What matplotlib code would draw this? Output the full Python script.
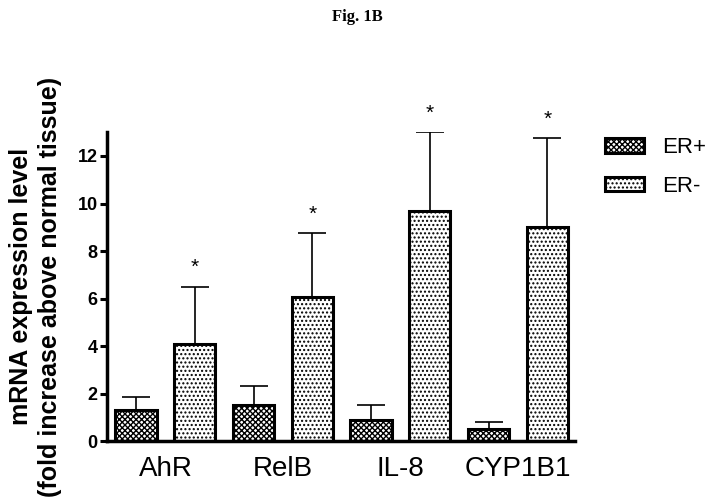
import matplotlib
matplotlib.use('Agg')
import matplotlib.pyplot as plt
import numpy as np

# Data
genes = ['AhR', 'RelB', 'IL-8', 'CYP1B1']
er_pos = [1.3, 1.5, 0.9, 0.5]
er_pos_err = [0.55, 0.8, 0.6, 0.3]
er_neg = [4.1, 6.05, 9.7, 9.0]
er_neg_err = [2.4, 2.7, 3.3, 3.75]
yticks = [0, 2, 4, 6, 8, 10, 12]

plt.rcParams['font.family'] = ['Liberation Sans', 'DejaVu Sans']
plt.rcParams['hatch.linewidth'] = 1.0

fig = plt.figure(figsize=(7.15, 4.99), dpi=100)
ax = fig.add_axes([0.150, 0.116, 0.654, 0.619])

x = np.arange(len(genes)) * 2
w = 0.7
lw = 2.2

ax.bar(x, er_pos, width=w, facecolor='white', edgecolor='black',
       linewidth=lw, hatch='xxxxxx', label='ER+', zorder=2)
ax.bar(x + 1, er_neg, width=w, facecolor='white', edgecolor='black',
       linewidth=lw, hatch='....', label='ER-', zorder=2)

# upper-only error bars
ax.errorbar(x, er_pos, yerr=[np.zeros(4), er_pos_err], fmt='none',
            ecolor='black', elinewidth=1.2, capsize=10, capthick=1.2, zorder=1)
ax.errorbar(x + 1, er_neg, yerr=[np.zeros(4), er_neg_err], fmt='none',
            ecolor='black', elinewidth=1.2, capsize=10, capthick=1.2, zorder=1)

# significance stars
for xi, v, e in zip(x + 1, er_neg, er_neg_err):
    ax.text(xi, v + e + 0.4, '*', ha='center', va='bottom', fontsize=15)

ax.set_xlim(-0.49, 7.47)
ax.set_ylim(0, 13)
ax.set_yticks(yticks)
ax.set_yticklabels([str(t) for t in yticks], fontsize=13, fontweight='bold')
ax.set_xticks(x + 0.5)
ax.set_xticklabels(genes, fontsize=20)
ax.tick_params(axis='x', length=0, pad=11)
ax.tick_params(axis='y', width=2.2, length=5, pad=2)

for s in ['top', 'right']:
    ax.spines[s].set_visible(False)
for s in ['left', 'bottom']:
    ax.spines[s].set_linewidth(2.5)

ax.set_ylabel('mRNA expression level\n(fold increase above normal tissue)',
              fontsize=18, fontweight='bold', labelpad=11, linespacing=1.25)

ax.legend(loc='upper left', bbox_to_anchor=(1.064, 0.984), frameon=False,
          fontsize=16, handlelength=1.76, handleheight=0.63,
          labelspacing=0.8, handletextpad=0.8, borderpad=0, borderaxespad=0)

fig.text(0.5, 0.965, 'Fig. 1B', ha='center', va='center', fontsize=12,
         fontweight='bold', family='Liberation Serif')

fig.savefig('out.png', dpi=100)
